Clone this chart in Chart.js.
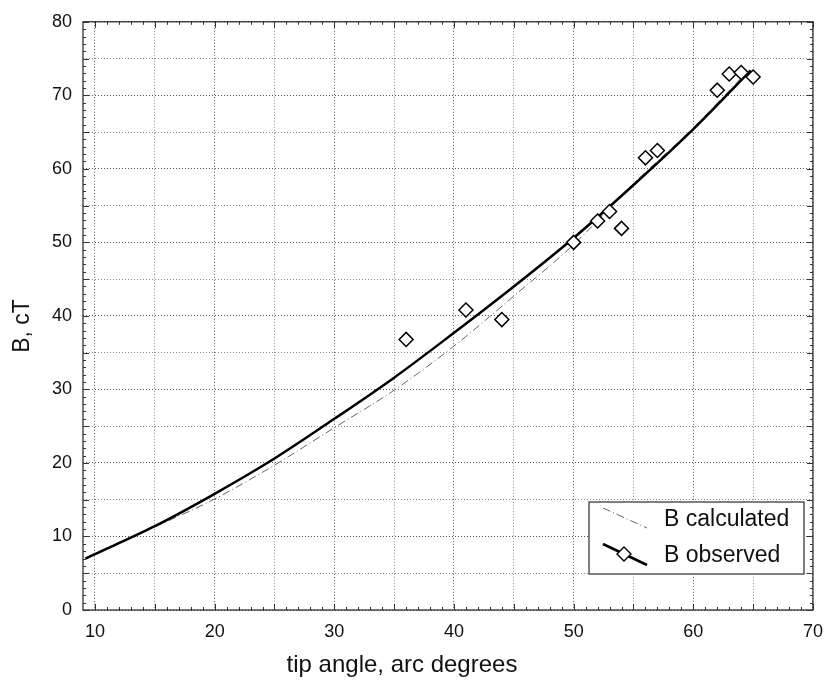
<!DOCTYPE html>
<html>
<head>
<meta charset="utf-8">
<script src="https://cdn.jsdelivr.net/npm/chart.js@4.4.1/dist/chart.umd.min.js"></script>
<style>
  body { margin: 0; background: #fff; }
  #wrap { width: 834px; height: 684px; position: relative; }
</style>
</head>
<body>
<div id="wrap"><canvas id="myChart"></canvas></div>
<script>
// observed points
var angleObs = [36, 41, 44, 50, 52, 53, 54, 56, 57, 62, 63, 64, 65];
var bObs = [36.8, 40.8, 39.5, 50.0, 52.9, 54.2, 51.9, 61.5, 62.5, 70.7, 72.9, 73.1, 72.5];

var angleFit = [9.2, 10, 15, 20, 25, 30, 35, 40, 45, 50, 55, 60, 64.8];
var bFit = [7.0, 7.6, 11.4, 15.8, 20.6, 26.0, 31.6, 37.7, 44.0, 50.6, 57.8, 65.4, 73.4];

// calculated curve
var angleCalc = [9.3, 10, 15, 20, 25, 30, 35, 40, 45, 50, 55, 60, 64.5];
var bCalc = [7.1, 7.7, 11.3, 15.1, 19.7, 24.8, 29.9, 35.9, 42.7, 49.7, 58.0, 65.6, 73.2];

var xTicks = [10, 15, 20, 25, 30, 35, 40, 45, 50, 55, 60, 65, 70];
var yTicks = [0, 5, 10, 15, 20, 25, 30, 35, 40, 45, 50, 55, 60, 65, 70, 75, 80];

var xTitle = 'tip angle, arc degrees';
var yTitle = 'B, cT';

function pts(xs, ys) {
    return xs.map(function (x, i) { return { x: x, y: ys[i] }; });
}

var FONT = '"Liberation Sans", Arial, sans-serif';

// frame, inward minor ticks, axis titles and the boxed legend
var framePlugin = {
    id: 'frame',
    afterDraw: function (chart) {
        var c = chart.ctx, a = chart.chartArea;
        var xs = chart.scales.x, ys = chart.scales.y;
        c.save();
        c.strokeStyle = '#222';
        c.lineWidth = 1.2;
        c.strokeRect(a.left, a.top, a.right - a.left, a.bottom - a.top);

        c.lineWidth = 1;
        c.strokeStyle = '#333';
        c.beginPath();
        for (var v = 10; v <= 70; v++) {
            var px = Math.round(xs.getPixelForValue(v)) + 0.5;
            var len = v % 5 === 0 ? 6 : 3;
            c.moveTo(px, a.bottom); c.lineTo(px, a.bottom - len);
            c.moveTo(px, a.top); c.lineTo(px, a.top + len);
        }
        for (var w = 0; w <= 80; w++) {
            var py = Math.round(ys.getPixelForValue(w)) + 0.5;
            var l2 = w % 5 === 0 ? 6 : 3;
            c.moveTo(a.left, py); c.lineTo(a.left + l2, py);
            c.moveTo(a.right, py); c.lineTo(a.right - l2, py);
        }
        c.stroke();

        // axis titles
        c.fillStyle = '#111';
        c.textBaseline = 'middle';
        c.textAlign = 'center';
        c.font = '24px ' + FONT;
        c.fillText(xTitle, 402, 665);
        c.save();
        c.translate(23, 326);
        c.rotate(-Math.PI / 2);
        c.font = '23px ' + FONT;
        c.fillText(yTitle, 0, 0);
        c.restore();

        // legend box
        var bx = 589, by = 502, bw = 215, bh = 72;
        c.fillStyle = '#fff';
        c.fillRect(bx, by, bw, bh);
        c.strokeStyle = '#555';
        c.lineWidth = 1.5;
        c.strokeRect(bx, by, bw, bh);

        c.strokeStyle = '#666';
        c.lineWidth = 1;
        c.setLineDash([8, 3, 1, 3]);
        c.beginPath();
        c.moveTo(603, 508); c.lineTo(647, 528);
        c.stroke();
        c.setLineDash([]);

        c.strokeStyle = '#000';
        c.lineWidth = 2.5;
        c.beginPath();
        c.moveTo(603, 544); c.lineTo(647, 565);
        c.stroke();
        c.lineWidth = 1.4;
        c.fillStyle = '#fff';
        c.beginPath();
        c.moveTo(624, 547); c.lineTo(631, 554); c.lineTo(624, 561); c.lineTo(617, 554);
        c.closePath();
        c.fill(); c.stroke();

        c.fillStyle = '#111';
        c.font = '23px ' + FONT;
        c.textBaseline = 'middle';
        c.textAlign = 'left';
        c.fillText('B calculated', 664, 520);
        c.fillText('B observed', 664, 556);
        c.restore();
    }
};

function gridColor(ctx) {
    return ctx.tick && ctx.tick.value % 10 === 0 ? '#555' : '#888';
}

var ctx = document.getElementById('myChart').getContext('2d');
var myChart = new Chart(ctx, {
    type: 'scatter',
    data: {
        datasets: [{
            label: 'B observed',
            data: pts(angleObs, bObs),
            pointStyle: 'rectRot',
            pointRadius: 7,
            pointBorderWidth: 1.5,
            pointBorderColor: '#000',
            pointBackgroundColor: '#fff',
            showLine: false,
            order: 0
        }, {
            label: 'B observed fit',
            data: pts(angleFit, bFit),
            showLine: true,
            borderColor: '#000',
            borderWidth: 2.5,
            pointRadius: 0,
            cubicInterpolationMode: 'monotone',
            order: 1
        }, {
            label: 'B calculated',
            data: pts(angleCalc, bCalc),
            showLine: true,
            borderColor: '#666',
            borderWidth: 1,
            borderDash: [8, 3, 1, 3],
            pointRadius: 0,
            cubicInterpolationMode: 'monotone',
            order: 2
        }]
    },
    options: {
        responsive: true,
        maintainAspectRatio: false,
        animation: false,
        layout: { padding: { top: 20, right: 13, left: 0, bottom: 0 } },
        plugins: {
            legend: { display: false },
            tooltip: { enabled: false }
        },
        scales: {
            x: {
                type: 'linear',
                min: 9,
                max: 70,
                afterBuildTicks: function (s) { s.ticks = xTicks.map(function (v) { return { value: v }; }); },
                afterFit: function (s) { s.height = 74; },
                ticks: {
                    padding: 11,
                    color: '#111',
                    font: { family: FONT, size: 18 },
                    maxRotation: 0,
                    autoSkip: false,
                    callback: function (v) { return v % 10 === 0 ? v : ''; }
                },
                grid: { color: gridColor, drawTicks: false },
                border: { display: false, dash: [1, 2] }
            },
            y: {
                type: 'linear',
                min: 0,
                max: 80,
                afterBuildTicks: function (s) { s.ticks = yTicks.map(function (v) { return { value: v }; }); },
                afterFit: function (s) { s.width = 83; },
                ticks: {
                    padding: 11,
                    color: '#111',
                    font: { family: FONT, size: 18 },
                    autoSkip: false,
                    callback: function (v) { return v % 10 === 0 ? v : ''; }
                },
                grid: { color: gridColor, drawTicks: false },
                border: { display: false, dash: [1, 2] }
            }
        }
    },
    plugins: [framePlugin]
});
</script>
</body>
</html>
